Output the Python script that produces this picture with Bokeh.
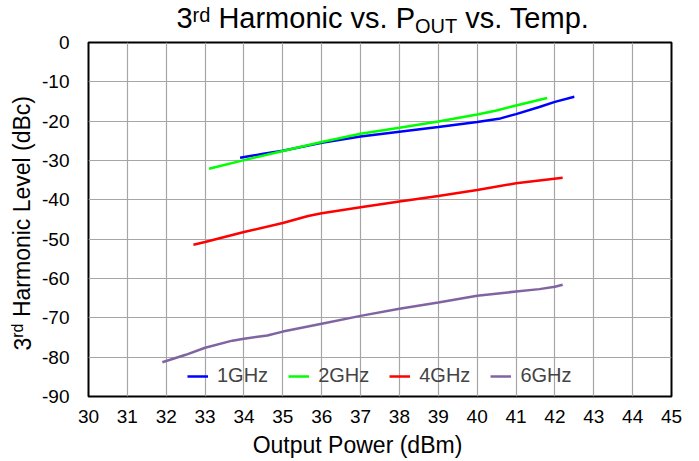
import math

from bokeh.embed import file_html
from bokeh.layouts import column, row
from bokeh.models import FixedTicker, Label, Legend, LegendItem, Range1d
from bokeh.plotting import figure
from bokeh.resources import INLINE

# ---- data: 3rd harmonic level (dBc) vs. output power (dBm) ----
x_1ghz = [33.9, 34.5, 35.0, 36.0, 37.0, 38.0, 39.0, 40.0, 40.6, 41.0, 41.6, 42.0, 42.5]
y_1ghz = [-29.3, -28.3, -27.5, -25.5, -23.9, -22.7, -21.5, -20.2, -19.3, -18.2, -16.4, -15.1, -13.8]

x_2ghz = [33.1, 34.0, 35.0, 36.0, 37.0, 38.0, 39.0, 40.0, 40.5, 41.0, 41.8]
y_2ghz = [-32.1, -29.9, -27.6, -25.3, -23.2, -21.7, -20.1, -18.3, -17.3, -16.0, -14.1]

x_4ghz = [32.7, 33.0, 34.0, 35.0, 35.65, 36.0, 37.0, 38.0, 39.0, 40.0, 41.0, 42.2]
y_4ghz = [-51.4, -50.7, -48.2, -45.9, -44.1, -43.4, -41.9, -40.4, -39.0, -37.5, -35.8, -34.4]

x_6ghz = [31.9, 32.5, 33.0, 33.7, 34.0, 34.6, 35.0, 36.0, 37.0, 38.0, 39.0, 40.0, 41.0, 41.6, 42.0, 42.2]
y_6ghz = [-81.3, -79.4, -77.6, -75.8, -75.3, -74.5, -73.5, -71.5, -69.5, -67.7, -66.1, -64.4, -63.3, -62.7, -62.1, -61.6]

series_names = ["1GHz", "2GHz", "4GHz", "6GHz"]
series_colors = ["#0000FF", "#00FF00", "#FF0000", "#8064A2"]

x_ticks = list(range(30, 46))
y_ticks = list(range(-90, 1, 10))

title_runs = [("3", 29, 0), ("rd", 20, 6), (" Harmonic vs. P", 29, 0),
              ("OUT", 20, -5), (" vs. Temp.", 29, 0)]
ylabel_runs = [("3", 23, 0), ("rd", 16, 7), (" Harmonic Level (dBc)", 23, 0)]
xlabel_text = "Output Power (dBm)"

FONT = "Liberation Sans"
BASE_FIX = 0.36   # baseline correction, fraction of font size

# Arial / Liberation Sans advance widths (per 1000 em), used to lay out
# text runs that mix normal, superscript and subscript sizes.
ADV = {
    "3": 556, "r": 333, "d": 556, " ": 278, "H": 722, "a": 556, "m": 833,
    "o": 556, "n": 556, "i": 222, "c": 500, "v": 500, "s": 500, ".": 278,
    "P": 667, "O": 778, "U": 722, "T": 611, "e": 556, "p": 556, "L": 556,
    "l": 222, "(": 333, ")": 333, "B": 667,
}


def run_width(text, size):
    return sum(ADV.get(ch, 556) for ch in text) * size / 1000.0


# page geometry (px, from the top-left corner of the page)
W, H = 699, 461
YLAB_W = 40                      # rotated y label strip
YAX_W = 36                       # y tick label strip
RIGHT_X = YLAB_W + YAX_W         # where the title / chart / x label column starts
RIGHT_W = W - RIGHT_X
TITLE_H = 41
XLAB_H = 33
MAIN_H = H - TITLE_H - XLAB_H
FRAME_LEFT, FRAME_RIGHT, FRAME_TOP, FRAME_BOTTOM = 88, 671, 42, 396


def text_panel(w, h, x_span, y_span, borders=(0, 0, 0, 0)):
    # y range is flipped so that data y grows downwards like page pixels;
    # borders = (top, right, bottom, left)
    f = figure(width=w, height=h, x_range=Range1d(*x_span), y_range=Range1d(*y_span),
               title=None, x_axis_type=None, y_axis_type=None, output_backend="svg",
               toolbar_location=None, min_border=0,
               min_border_top=borders[0], min_border_right=borders[1],
               min_border_bottom=borders[2], min_border_left=borders[3],
               outline_line_color=None,
               background_fill_color="white", border_fill_color="white")
    f.xgrid.visible = False
    f.ygrid.visible = False
    return f


def add_run(f, x, y, text, size, angle=0.0, align="left"):
    f.add_layout(Label(
        x=x, y=y, text=text, text_font=FONT, text_font_size=f"{size}px",
        text_color="black", text_align=align, text_baseline="alphabetic",
        angle=angle,
    ))


def runs_layout(runs):
    """Yield (text, size, shift, offset) with leading blanks turned into offset."""
    off = 0.0
    for t, s, d in runs:
        lead = len(t) - len(t.lstrip(" "))
        off += run_width(" " * lead, s)
        body = t.lstrip(" ")
        yield body, s, d, off
        off += run_width(body, s)


y_range = Range1d(-90, 0)
x_range = Range1d(30, 45)

# ---- y label strip (rotated, reading upwards) ----
ylab_fig = text_panel(YLAB_W, H, (0, YLAB_W), (FRAME_BOTTOM, FRAME_TOP),
                      borders=(FRAME_TOP, 0, H - FRAME_BOTTOM, 0))
for t, s, dy, off in runs_layout(ylabel_runs):
    add_run(ylab_fig, 30 - dy - BASE_FIX * s, 350 - off, t, s, angle=math.pi / 2)

# ---- y tick label strip: an axis sharing the chart's y range ----
yax_fig = figure(width=YAX_W, height=H, x_range=Range1d(0, 1), y_range=y_range,
                 title=None, x_axis_type=None, output_backend="svg",
                 toolbar_location=None, min_border_left=YAX_W - 1, min_border_right=0,
                 min_border_top=FRAME_TOP, min_border_bottom=H - FRAME_BOTTOM,
                 outline_line_color=None,
                 background_fill_color="white", border_fill_color="white")
yax_fig.xgrid.visible = False
yax_fig.ygrid.visible = False
yax = yax_fig.yaxis[0]
yax.ticker = FixedTicker(ticks=y_ticks)
yax.major_label_overrides = {t: str(t) for t in y_ticks}
yax.axis_line_color = None
yax.major_tick_line_color = None
yax.minor_tick_line_color = None
yax.major_tick_out = 0
yax.major_tick_in = 0
yax.major_label_text_font = FONT
yax.major_label_text_font_size = "19px"
yax.major_label_text_color = "black"
yax.major_label_standoff = (RIGHT_X - 1) - 68

# the title / x label strips share the chart frame's horizontal extent,
# so their x data coordinates are page pixels
strip_borders_lr = (W - FRAME_RIGHT, FRAME_LEFT - RIGHT_X)

# ---- title strip ----
title_fig = text_panel(RIGHT_W, TITLE_H, (FRAME_LEFT, FRAME_RIGHT), (TITLE_H, 0),
                       borders=(0, strip_borders_lr[0], 0, strip_borders_lr[1]))
total = sum(run_width(t, s) for t, s, _ in title_runs)
x0 = 384 - total / 2
for t, s, dy, off in runs_layout(title_runs):
    add_run(title_fig, x0 + off, 28 - dy - BASE_FIX * s, t, s)

# ---- main chart ----
p = figure(
    width=RIGHT_W, height=MAIN_H, title=None,
    x_range=x_range, y_range=y_range,
    output_backend="svg", toolbar_location=None,
    min_border_left=FRAME_LEFT - RIGHT_X, min_border_right=W - FRAME_RIGHT,
    min_border_top=FRAME_TOP - TITLE_H,
    min_border_bottom=TITLE_H + MAIN_H - FRAME_BOTTOM,
    background_fill_color="white", border_fill_color="white",
)
p.outline_line_color = "black"
p.outline_line_width = 2
p.yaxis.visible = False

p.xaxis.ticker = FixedTicker(ticks=x_ticks)
xax = p.xaxis[0]
xax.axis_line_color = None
xax.major_tick_line_color = None
xax.minor_tick_line_color = None
xax.major_tick_out = 0
xax.major_tick_in = 0
xax.major_label_text_font = FONT
xax.major_label_text_font_size = "19px"
xax.major_label_text_color = "black"
xax.major_label_standoff = 13

p.xgrid.ticker = FixedTicker(ticks=x_ticks)
p.ygrid.ticker = FixedTicker(ticks=y_ticks)
for g in (p.xgrid[0], p.ygrid[0]):
    g.grid_line_color = "#a6a6a6"
    g.grid_line_width = 1.2

xs = [x_1ghz, x_2ghz, x_4ghz, x_6ghz]
ys = [y_1ghz, y_2ghz, y_4ghz, y_6ghz]
items = []
for name, color, xv, yv in zip(series_names, series_colors, xs, ys):
    r = p.line(xv, yv, line_color=color, line_width=2.5)
    items.append(LegendItem(label=name, renderers=[r]))

legend = Legend(
    items=items, orientation="horizontal", location=(99, 9),
    padding=0, margin=0, spacing=20, glyph_width=21, glyph_height=20,
    label_standoff=9, label_height=20,
    label_text_font=FONT, label_text_font_size="20px",
    border_line_color=None, background_fill_alpha=0,
)
p.add_layout(legend, "center")

# ---- x label strip ----
xlab_fig = text_panel(RIGHT_W, XLAB_H, (FRAME_LEFT, FRAME_RIGHT), (H, TITLE_H + MAIN_H),
                      borders=(0, strip_borders_lr[0], 0, strip_borders_lr[1]))
add_run(xlab_fig, 357, 453 - BASE_FIX * 23, xlabel_text, 23, align="center")

layout = row(ylab_fig, yax_fig, column(title_fig, p, xlab_fig, spacing=0), spacing=0)

open("out.html", "w").write(file_html(layout, INLINE))
